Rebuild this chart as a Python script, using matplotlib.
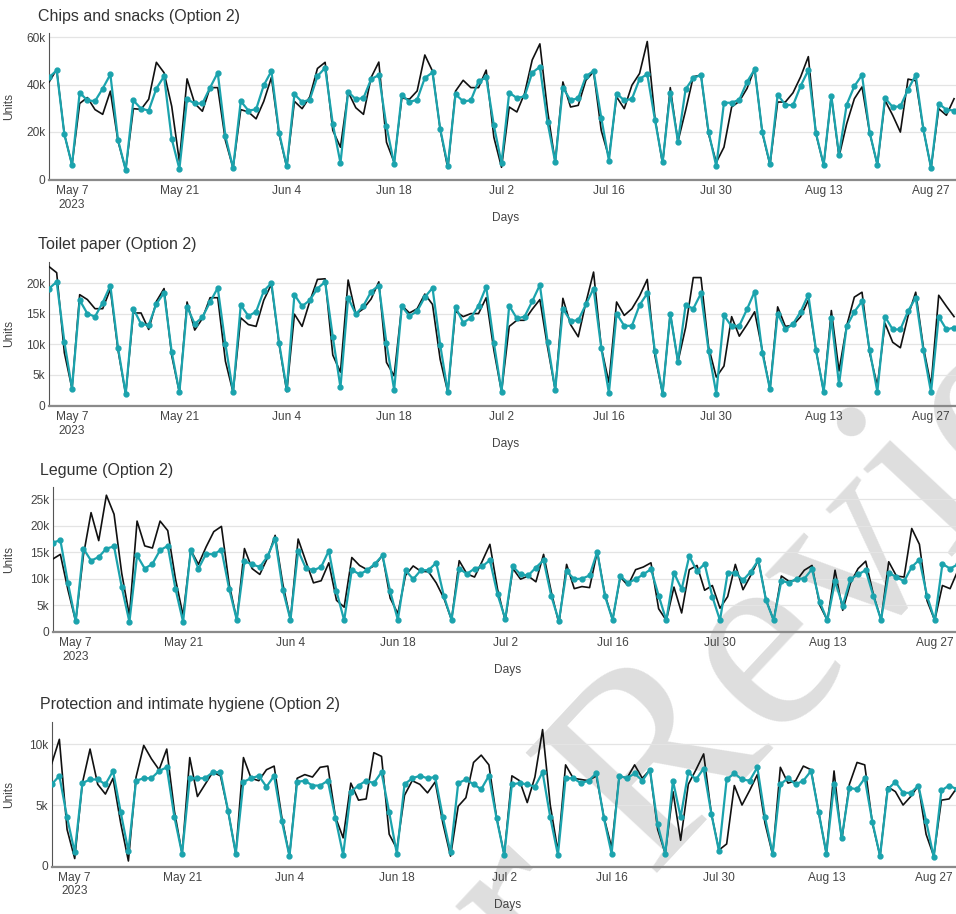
"""Daily units sold vs. predicted (Option 2) for four product groups."""
import numpy as np
import pandas as pd
import matplotlib
matplotlib.use('Agg')
import matplotlib.pyplot as plt
import matplotlib.dates as mdates

plt.rcParams['font.family'] = ['Liberation Sans', 'DejaVu Sans']

#
# Data (thousands of units, one value per day from May 4 to Aug 30 2023)
#
days = pd.date_range('2023-05-04', '2023-08-30', freq='D')

chips_actual = [41, 46.4, 19, 6, 32, 34.5, 29.4, 27.4, 37.2, 16, 4, 29.8, 29.5, 33.8,
                49.4, 45, 30.8, 7.5, 42.4, 32, 28.7, 38.7, 38.7, 16.3, 4.7, 29.4, 28.4, 25.5,
                32.9, 43, 19, 5, 32.9, 29.8, 34.8, 46.8, 49.4, 20.6, 13.5, 36.9, 30.2, 27.4,
                43, 49.5, 15.6, 7.1, 34.3, 33.8, 37.3, 52.5, 45.7, 21, 4.5, 37.2, 41.8, 38.7,
                38.7, 46.1, 17.7, 5, 30.5, 28.4, 36.2, 50.4, 57.2, 29, 7.1, 41.1, 30.5, 31.2,
                41.8, 45.4, 20.6, 9.2, 34.8, 29.8, 39.7, 44.7, 58.2, 26, 6.4, 38.7, 15.9, 29.1,
                43.3, 44, 19, 7.1, 13.5, 30.5, 32.9, 38.3, 46.8, 19.5, 6.1, 32.6, 32.6, 36.5,
                43.3, 51.8, 19, 6, 35.2, 9.5, 23.4, 34, 39, 19.5, 6.1, 33.3, 27, 19.9,
                42.3, 41.6, 21, 4.7, 29.8, 27, 34]
chips_pred = [43, 46, 19, 6, 36.6, 33.3, 33, 38.3, 44.3, 16.6, 3.8, 33.3, 29.8, 29,
              38.3, 43.5, 17, 4.3, 33.8, 32, 32, 38.7, 45, 18.2, 4.7, 33, 29, 29.5,
              39.7, 45.7, 19.7, 5.4, 35.9, 32.6, 33.6, 43.5, 47.1, 23.4, 6.8, 36.9, 33.8, 34.3,
              42.3, 44, 22.3, 6.4, 35.7, 32.6, 33.6, 42.8, 45.1, 21.3, 5.7, 35.9, 32.9, 33.3,
              41.4, 43, 22.7, 6.8, 36.6, 34.3, 35, 45, 47.5, 24.1, 7.1, 38.7, 33.3, 34.3,
              43.5, 45.8, 26, 7.8, 36.2, 33.3, 33.9, 42.4, 44.4, 25.1, 7.1, 36.6, 15.9, 38,
              42.8, 44, 19.9, 5.4, 32.3, 32.3, 33.6, 41.1, 46.4, 19.9, 6.4, 35.7, 31.5, 31.2,
              39.4, 46.1, 19.4, 6, 35.2, 10.4, 31.5, 39.3, 44, 19.7, 6.1, 34.3, 30.5, 30.8,
              37.9, 44, 21, 4.7, 31.9, 29.4, 29]

toilet_actual = [22.7, 21.7, 8.6, 2.7, 18.1, 17.3, 15.8, 15.8, 19, 9, 1.8, 15.1, 15.1, 12.4,
                 17, 19.1, 8.1, 2.1, 16.9, 12.3, 14.2, 17.6, 17.6, 7.2, 2.1, 14.3, 13.2, 12.9,
                 17.2, 19.8, 10, 2.2, 14.9, 12.9, 17, 20.6, 20.7, 8.2, 5.4, 20.5, 14.9, 15.8,
                 17.4, 20.2, 7, 4.8, 16.3, 15.1, 15.8, 18.2, 16.5, 7.5, 2.1, 15.4, 14.5, 15,
                 15, 17.6, 9, 2.2, 12.9, 13.9, 13.9, 15.7, 17.3, 9.5, 2.5, 17.5, 13.2, 11.2,
                 16.8, 21.8, 9.5, 3.7, 16.9, 14.7, 15.8, 17.9, 20.6, 8.1, 1.9, 15, 7.1, 12.7,
                 20.9, 20.9, 9.5, 4.6, 6.4, 14.5, 11.3, 13.2, 15.3, 9, 2.6, 16.1, 12.9, 13.1,
                 14.5, 17.2, 9, 2.2, 15.5, 5.6, 13, 17.7, 18.5, 8.5, 3.2, 13.4, 10.3, 9.4,
                 14.6, 18.5, 9.5, 3.2, 18, 16.2, 14.5]
toilet_pred = [19.1, 20.2, 10.4, 2.7, 17.2, 15, 14.5, 16.8, 19.6, 9.4, 1.8, 15.8, 13.3, 13.1,
               16.6, 18.4, 8.7, 2.1, 16.1, 13.3, 14.4, 16.9, 19.2, 10, 2.1, 16.4, 14.6, 15.3,
               18.7, 20, 10.2, 2.6, 18.1, 16.2, 17.2, 19.1, 20.2, 11.2, 2.9, 17.6, 14.9, 16.3,
               18.6, 19.6, 10.1, 2.5, 16.2, 14.6, 15.4, 17.7, 19.2, 9.9, 2.1, 16.1, 13.5, 14.3,
               16.3, 19.4, 10.2, 2.2, 16.3, 14.2, 14.5, 17, 19.7, 10.4, 2.5, 15.8, 13.8, 13.9,
               16.5, 19.1, 9.4, 2, 15, 13, 13, 16.4, 18.3, 8.8, 1.9, 15, 7.1, 16.4,
               15.8, 18.3, 8.9, 1.9, 14.7, 12.9, 13, 15.7, 18.6, 8.6, 2.6, 15, 12.4, 13.3,
               15.3, 18.1, 9, 2.2, 14.3, 3.4, 12.9, 15.3, 17, 9, 2.2, 14.5, 12.4, 12.4,
               15.4, 17.6, 9, 2.1, 14.5, 12.4, 12.7]

legume_actual = [13.7, 14.6, 7.8, 1.9, 14.4, 22.5, 17.2, 25.8, 22.2, 11, 3, 20.9, 16.2, 15.8,
                 20.9, 19.1, 10, 3, 15.4, 12.7, 16, 18.9, 19.9, 9, 2.2, 15.7, 11.9, 10.8,
                 13.9, 18.2, 9, 2.2, 17.5, 13.3, 9.2, 9.6, 13, 5.9, 4.6, 14, 12.5, 11.7,
                 12.5, 14.4, 6.3, 3.4, 10.6, 12.4, 11.4, 11.3, 9.2, 6.3, 2.2, 13.4, 10.9, 10.3,
                 13.3, 16.5, 8, 2, 11.9, 9.9, 10.5, 9.4, 14.6, 7.5, 1.5, 12.7, 8.1, 8.5,
                 8.3, 15.1, 7, 2.2, 10.3, 8.7, 11.7, 12.2, 13, 4.3, 2.1, 8.4, 3.5, 11.7,
                 12.5, 7.8, 8.7, 4.4, 6.6, 12.7, 7.9, 10.6, 13.5, 6, 2.1, 10.5, 9.5, 9.7,
                 11.6, 12.5, 5, 2.1, 11.6, 4, 9.1, 11.9, 13.3, 7, 2.2, 13.2, 10.5, 10.3,
                 19.5, 16.5, 5.8, 2.1, 8.7, 8.1, 11.5]
legume_pred = [16.8, 17.3, 9.1, 1.9, 15.7, 13.4, 14.1, 15.7, 16.1, 8.4, 1.8, 14.4, 11.9, 12.8,
               15.4, 16.2, 8.1, 1.8, 15.4, 11.9, 14.7, 14.6, 15.5, 8.1, 2.2, 13.3, 12.7, 12.2,
               14.2, 17.6, 7.9, 2.2, 15.3, 12, 11.6, 12.2, 15.3, 7.6, 2.1, 11.7, 10.8, 11.6,
               12.8, 14.4, 7.6, 2.2, 11.6, 9.9, 11.6, 11.6, 13, 6.7, 2.2, 11.9, 10.9, 11.9,
               12.3, 13.5, 7, 2.4, 12.3, 10.8, 10.6, 12.1, 13.5, 6.7, 2, 11.4, 9.9, 10,
               10.6, 15.1, 6.7, 2.2, 10.5, 9.2, 9.9, 10.8, 11.8, 6.8, 2.1, 11.1, 8, 14.3,
               11.4, 12.8, 6.6, 2.1, 11.1, 11.1, 9.7, 11.3, 13.5, 5.9, 2.1, 9.6, 9.2, 10,
               10, 11.8, 5.6, 2.1, 9.5, 4.9, 9.9, 10.8, 11.6, 6.7, 2.2, 11.1, 10.3, 9.5,
               12.2, 13.6, 6.7, 2.1, 12.8, 11.9, 12.7]

hygiene_actual = [8.4, 10.4, 3, 0.6, 6.8, 9.6, 6.7, 5.9, 7.2, 3.5, 0.4, 7.3, 9.9, 8.8,
                  7.9, 9.6, 4.5, 1, 8.9, 5.7, 6.7, 7.7, 7.4, 4.5, 1, 8.9, 7.2, 7,
                  7.9, 8.2, 4, 0.8, 7.2, 7.5, 7.3, 8.1, 8.2, 4, 2.3, 6.8, 5.4, 5.5,
                  9.3, 9, 2.6, 1.4, 5.8, 7, 6.7, 6, 6.9, 3.5, 0.8, 4.9, 5.6, 8.5,
                  9.1, 8.3, 4, 0.9, 7.4, 7, 5.2, 7.3, 11.2, 5, 1.2, 8.3, 7.2, 7.1,
                  7, 7.4, 4, 1.5, 7.4, 7.2, 8.3, 7.2, 7.9, 3, 1, 6.1, 2.1, 6.7,
                  7.9, 9.2, 4.3, 1.3, 1.8, 6.6, 5, 6.2, 7.5, 3.5, 0.9, 8.1, 6.8, 7,
                  8.2, 7.9, 4.4, 1, 7.8, 2.1, 6.7, 8.5, 8.3, 3.5, 0.8, 6.5, 6.1, 5,
                  5.7, 6.6, 2.6, 0.8, 5.4, 5.5, 6.4]
hygiene_pred = [6.7, 7.4, 4, 1.1, 6.8, 7.1, 7.1, 6.7, 7.8, 4.4, 1.2, 7, 7.2, 7.2,
                7.8, 8.1, 4, 1, 7.2, 7.2, 7.2, 7.7, 7.7, 4.5, 1, 6.9, 7.2, 7.4,
                6.5, 7.4, 3.7, 0.8, 6.9, 7, 6.6, 6.6, 7, 3.9, 0.9, 6.1, 6.6, 7,
                6.8, 7.7, 4.4, 1, 6.7, 7.2, 7.4, 7.2, 7.3, 4, 1.1, 6.8, 7.1, 6.7,
                6.3, 7.4, 3.9, 0.9, 6.7, 6.8, 6.7, 6.5, 7.7, 4, 0.9, 7.2, 7.2, 6.8,
                7, 7.6, 3.9, 1, 7.4, 7.2, 7.6, 7, 7.9, 3.4, 1, 7, 4, 7.7,
                7.1, 8, 4.3, 1.2, 7.1, 7.6, 7.1, 7, 8.1, 4, 1, 6.7, 7.2, 6.7,
                7, 7.8, 4.4, 1, 6.7, 2.3, 6.4, 6.3, 7.2, 3.6, 0.8, 6.3, 6.9, 6,
                6, 6.6, 3.7, 0.7, 6.2, 6.6, 6.3]

titles = ['Chips and snacks (Option 2)', 'Toilet paper (Option 2)',
          'Legume (Option 2)', 'Protection and intimate hygiene (Option 2)']
actuals = [chips_actual, toilet_actual, legume_actual, hygiene_actual]
preds = [chips_pred, toilet_pred, legume_pred, hygiene_pred]
yticks = [[0, 20, 40, 60], [0, 5, 10, 15, 20], [0, 5, 10, 15, 20, 25], [0, 5, 10]]
ytop = [61.8, 23.5, 27.3, 11.8]

tick_dates = pd.to_datetime(['2023-05-07', '2023-05-21', '2023-06-04', '2023-06-18',
                             '2023-07-02', '2023-07-16', '2023-07-30', '2023-08-13',
                             '2023-08-27'])
tick_labels = ['May 7\n2023', 'May 21', 'Jun 4', 'Jun 18', 'Jul 2', 'Jul 16',
               'Jul 30', 'Aug 13', 'Aug 27']

watermark = 'For Peer Review'

colours = {'actual': '#111111', 'pred': '#1BA3AD', 'text': '#444444', 'grid': '#e4e4e4'}

#
# Plot
#
W, H = 956, 914
fig = plt.figure(figsize=(W / 100, H / 100), dpi=100)

# diagonal review watermark behind the panels (only partly inside the picture)
fig.text(547 / W, 1 - 896 / H, watermark, family=['Liberation Serif', 'DejaVu Serif'],
         fontsize=195, color='#dedede', rotation=47, rotation_mode='anchor',
         ha='center', va='center', zorder=-5)

# panel boxes in pixels: left, top, bottom (plot area runs past the right edge)
boxes = [(49, 33, 180), (49, 261.7, 406), (52.7, 487.3, 632.3), (51.7, 722.3, 866.7)]
title_pos = [(38, 17), (38, 244), (40, 471), (40, 705)]
right_px = 963
px_per_day = 7.67

for i in range(4):
    left, top, bottom = boxes[i]
    ax = fig.add_axes([left / W, 1 - bottom / H, (right_px - left) / W, (bottom - top) / H])
    ax.patch.set_alpha(0)
    ax.plot(days, actuals[i], '-', color=colours['actual'], lw=1.2, zorder=3)
    ax.plot(days, preds[i], '-o', color=colours['pred'], lw=1.6, ms=3.5, zorder=4)

    x0 = mdates.date2num(days[0])
    ax.set_xlim(x0, x0 + (right_px - left) / px_per_day)
    ax.set_ylim(-0.006 * ytop[i], ytop[i])

    ax.set_xticks(mdates.date2num(tick_dates))
    ax.set_xticklabels(tick_labels)
    ax.set_yticks(yticks[i])
    ax.set_yticklabels(['0'] + ['%dk' % v for v in yticks[i][1:]])
    ax.tick_params(axis='both', length=0, labelsize=8.6, colors=colours['text'])
    ax.tick_params(axis='x', pad=3.5)
    ax.tick_params(axis='y', pad=2.5)

    ax.grid(axis='y', color=colours['grid'], lw=0.9)
    ax.set_axisbelow(True)
    for side in ['top', 'right']:
        ax.spines[side].set_visible(False)
    ax.spines['left'].set_color('#555555')
    ax.spines['left'].set_linewidth(0.8)
    ax.spines['bottom'].set_color('#8a8a8a')
    ax.spines['bottom'].set_linewidth(1.6)

    ax.set_xlabel('Days', fontsize=8.6, color=colours['text'], labelpad=1)
    ax.set_ylabel('Units', fontsize=8.6, color=colours['text'])
    ax.yaxis.set_label_coords((15 - left) / (right_px - left), 0.5)

    fig.text(title_pos[i][0] / W, 1 - title_pos[i][1] / H, titles[i],
             fontsize=11.5, color='#333333', ha='left', va='center')

fig.savefig('out.png', dpi=100)
